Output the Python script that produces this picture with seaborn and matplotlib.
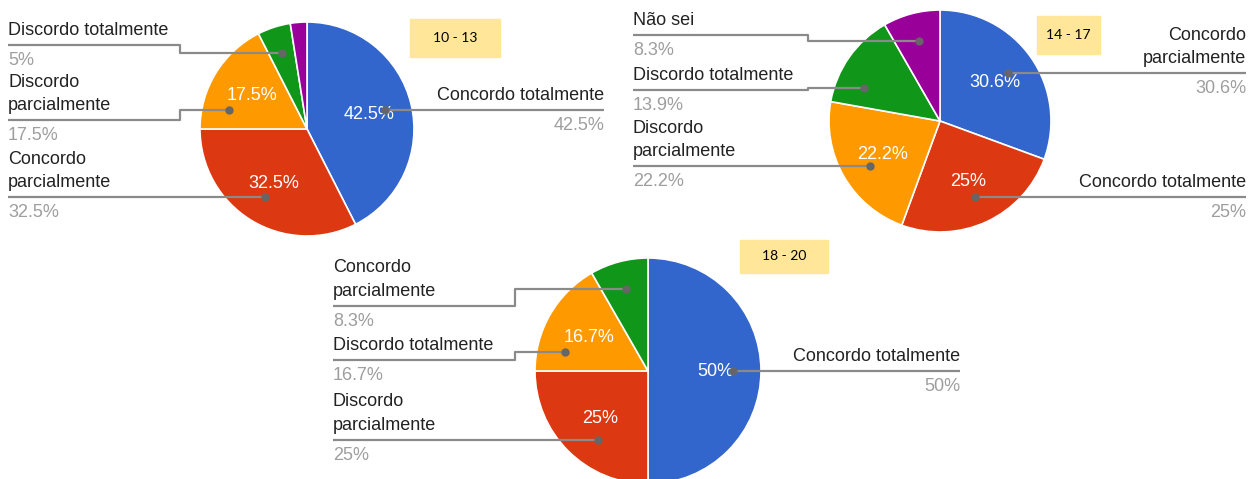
import numpy as np
import matplotlib
matplotlib.use("Agg")
import matplotlib.pyplot as plt
from matplotlib.patches import Rectangle
import seaborn as sns

sns.set_theme(style="white")
plt.rcParams["font.family"] = ["Liberation Sans", "DejaVu Sans"]

W, H = 1258, 479

faixa_1 = "10 - 13"
labels_1 = ["Concordo totalmente", "Concordo parcialmente", "Discordo parcialmente",
            "Discordo totalmente", "Não sei"]
values_1 = [42.5, 32.5, 17.5, 5.0, 2.5]

faixa_2 = "14 - 17"
labels_2 = ["Concordo parcialmente", "Concordo totalmente", "Discordo parcialmente",
            "Discordo totalmente", "Não sei"]
values_2 = [30.6, 25.0, 22.2, 13.9, 8.3]

faixa_3 = "18 - 20"
labels_3 = ["Concordo totalmente", "Discordo parcialmente", "Discordo totalmente",
            "Concordo parcialmente"]
values_3 = [50.0, 25.0, 16.7, 8.3]

colors = ["#3366CC", "#DC3912", "#FF9900", "#109618", "#990099"]

# --- layout (pixels, y a partir do topo) ---
# label: (lado, x do texto, y da linha ou None, x do cotovelo ou None, quebra, posicao no setor)
layout_1 = dict(center=(307, 129), radius=107, box=(410, 19, 500, 57), labels={
    "Concordo totalmente": ("right", 604, None, None, False, 0.5),
    "Concordo parcialmente": ("left", 8, None, None, True, 0.5),
    "Discordo parcialmente": ("left", 8, 120, 180, True, 0.22),
    "Discordo totalmente": ("left", 8, 45, 180, False, 0.5),
})
layout_2 = dict(center=(940, 121), radius=111, box=(1037, 16, 1100, 54), labels={
    "Concordo parcialmente": ("right", 1246, None, None, True, 0.5),
    "Concordo totalmente": ("right", 1246, None, None, False, 0.5),
    "Discordo parcialmente": ("left", 633, None, None, True, 0.46),
    "Discordo totalmente": ("left", 633, 90, 808, False, 0.27),
    "Não sei": ("left", 633, 35, 808, False, 0.5),
})
layout_3 = dict(center=(648, 371), radius=113, box=(740, 240, 828, 273), labels={
    "Concordo totalmente": ("right", 960, None, None, False, 0.5),
    "Discordo parcialmente": ("left", 333, None, None, True, 0.4),
    "Discordo totalmente": ("left", 333, 360, 515, False, 0.22),
    "Concordo parcialmente": ("left", 333, 306, 515, True, 0.5),
})

LINE_COLOR = "#8a8a8a"
NAME_COLOR = "#222222"
PCT_COLOR = "#9e9e9e"
FS = 13


def fmt_pct(p):
    return f"{p:.1f}".rstrip("0").rstrip(".") + "%"


def fmt_inner(p):
    return fmt_pct(p) if p >= 15 else ""


def draw_pie(ax, labels, values, faixa, lay):
    cx, cy = lay["center"]
    r = lay["radius"]
    cyd = H - cy
    wedges, _, _ = ax.pie(values, colors=colors[:len(values)], center=(cx, cyd), radius=r,
                          startangle=90, counterclock=False, autopct=fmt_inner,
                          pctdistance=0.6,
                          wedgeprops=dict(edgecolor="white", linewidth=1.2),
                          textprops=dict(color="white", fontsize=FS))
    total = sum(values)
    for w, name, v in zip(wedges, labels, values):
        if name not in lay["labels"]:
            continue
        side, x, line_y, elbow, wrap, f = lay["labels"][name]
        # setores desenhados no sentido horario: theta2 e o inicio
        ang = np.deg2rad(w.theta2 - f * (w.theta2 - w.theta1))
        dx = cx + 0.75 * r * np.cos(ang)
        dy = cyd + 0.75 * r * np.sin(ang)
        ly = dy if line_y is None else H - line_y
        if elbow is None:
            xs, ys = [x, dx], [ly, ly]
        else:
            xs, ys = [x, elbow, elbow, dx], [ly, ly, dy, dy]
        ax.plot(xs, ys, color=LINE_COLOR, lw=1.6, zorder=4, solid_capstyle="butt")
        ax.plot([dx], [dy], "o", color="#666666", ms=5, zorder=5)
        text = name.replace(" ", "\n", 1) if wrap else name
        ha = "left" if side == "left" else "right"
        ax.text(x, ly + 6, text, ha=ha, va="bottom", color=NAME_COLOR, fontsize=FS,
                linespacing=1.5, multialignment=ha, zorder=6)
        ax.text(x, ly - 7, fmt_pct(100 * v / total), ha=ha, va="top", color=PCT_COLOR,
                fontsize=FS, zorder=6)

    x0, y0, x1, y1 = lay["box"]
    ax.add_patch(Rectangle((x0, H - y1), x1 - x0, y1 - y0, color="#FFE699", zorder=1))
    ax.text((x0 + x1) / 2, H - (y0 + y1) / 2, faixa, ha="center", va="center",
            fontsize=10, color="black", family=["Lato", "DejaVu Sans"], zorder=2)


fig = plt.figure(figsize=(W / 100, H / 100), dpi=100)
ax = fig.add_axes([0, 0, 1, 1])

draw_pie(ax, labels_1, values_1, faixa_1, layout_1)
draw_pie(ax, labels_2, values_2, faixa_2, layout_2)
draw_pie(ax, labels_3, values_3, faixa_3, layout_3)

ax.set_xlim(0, W)
ax.set_ylim(0, H)
ax.set_aspect("equal")
ax.axis("off")

fig.savefig("out.png", dpi=100, facecolor="white")
